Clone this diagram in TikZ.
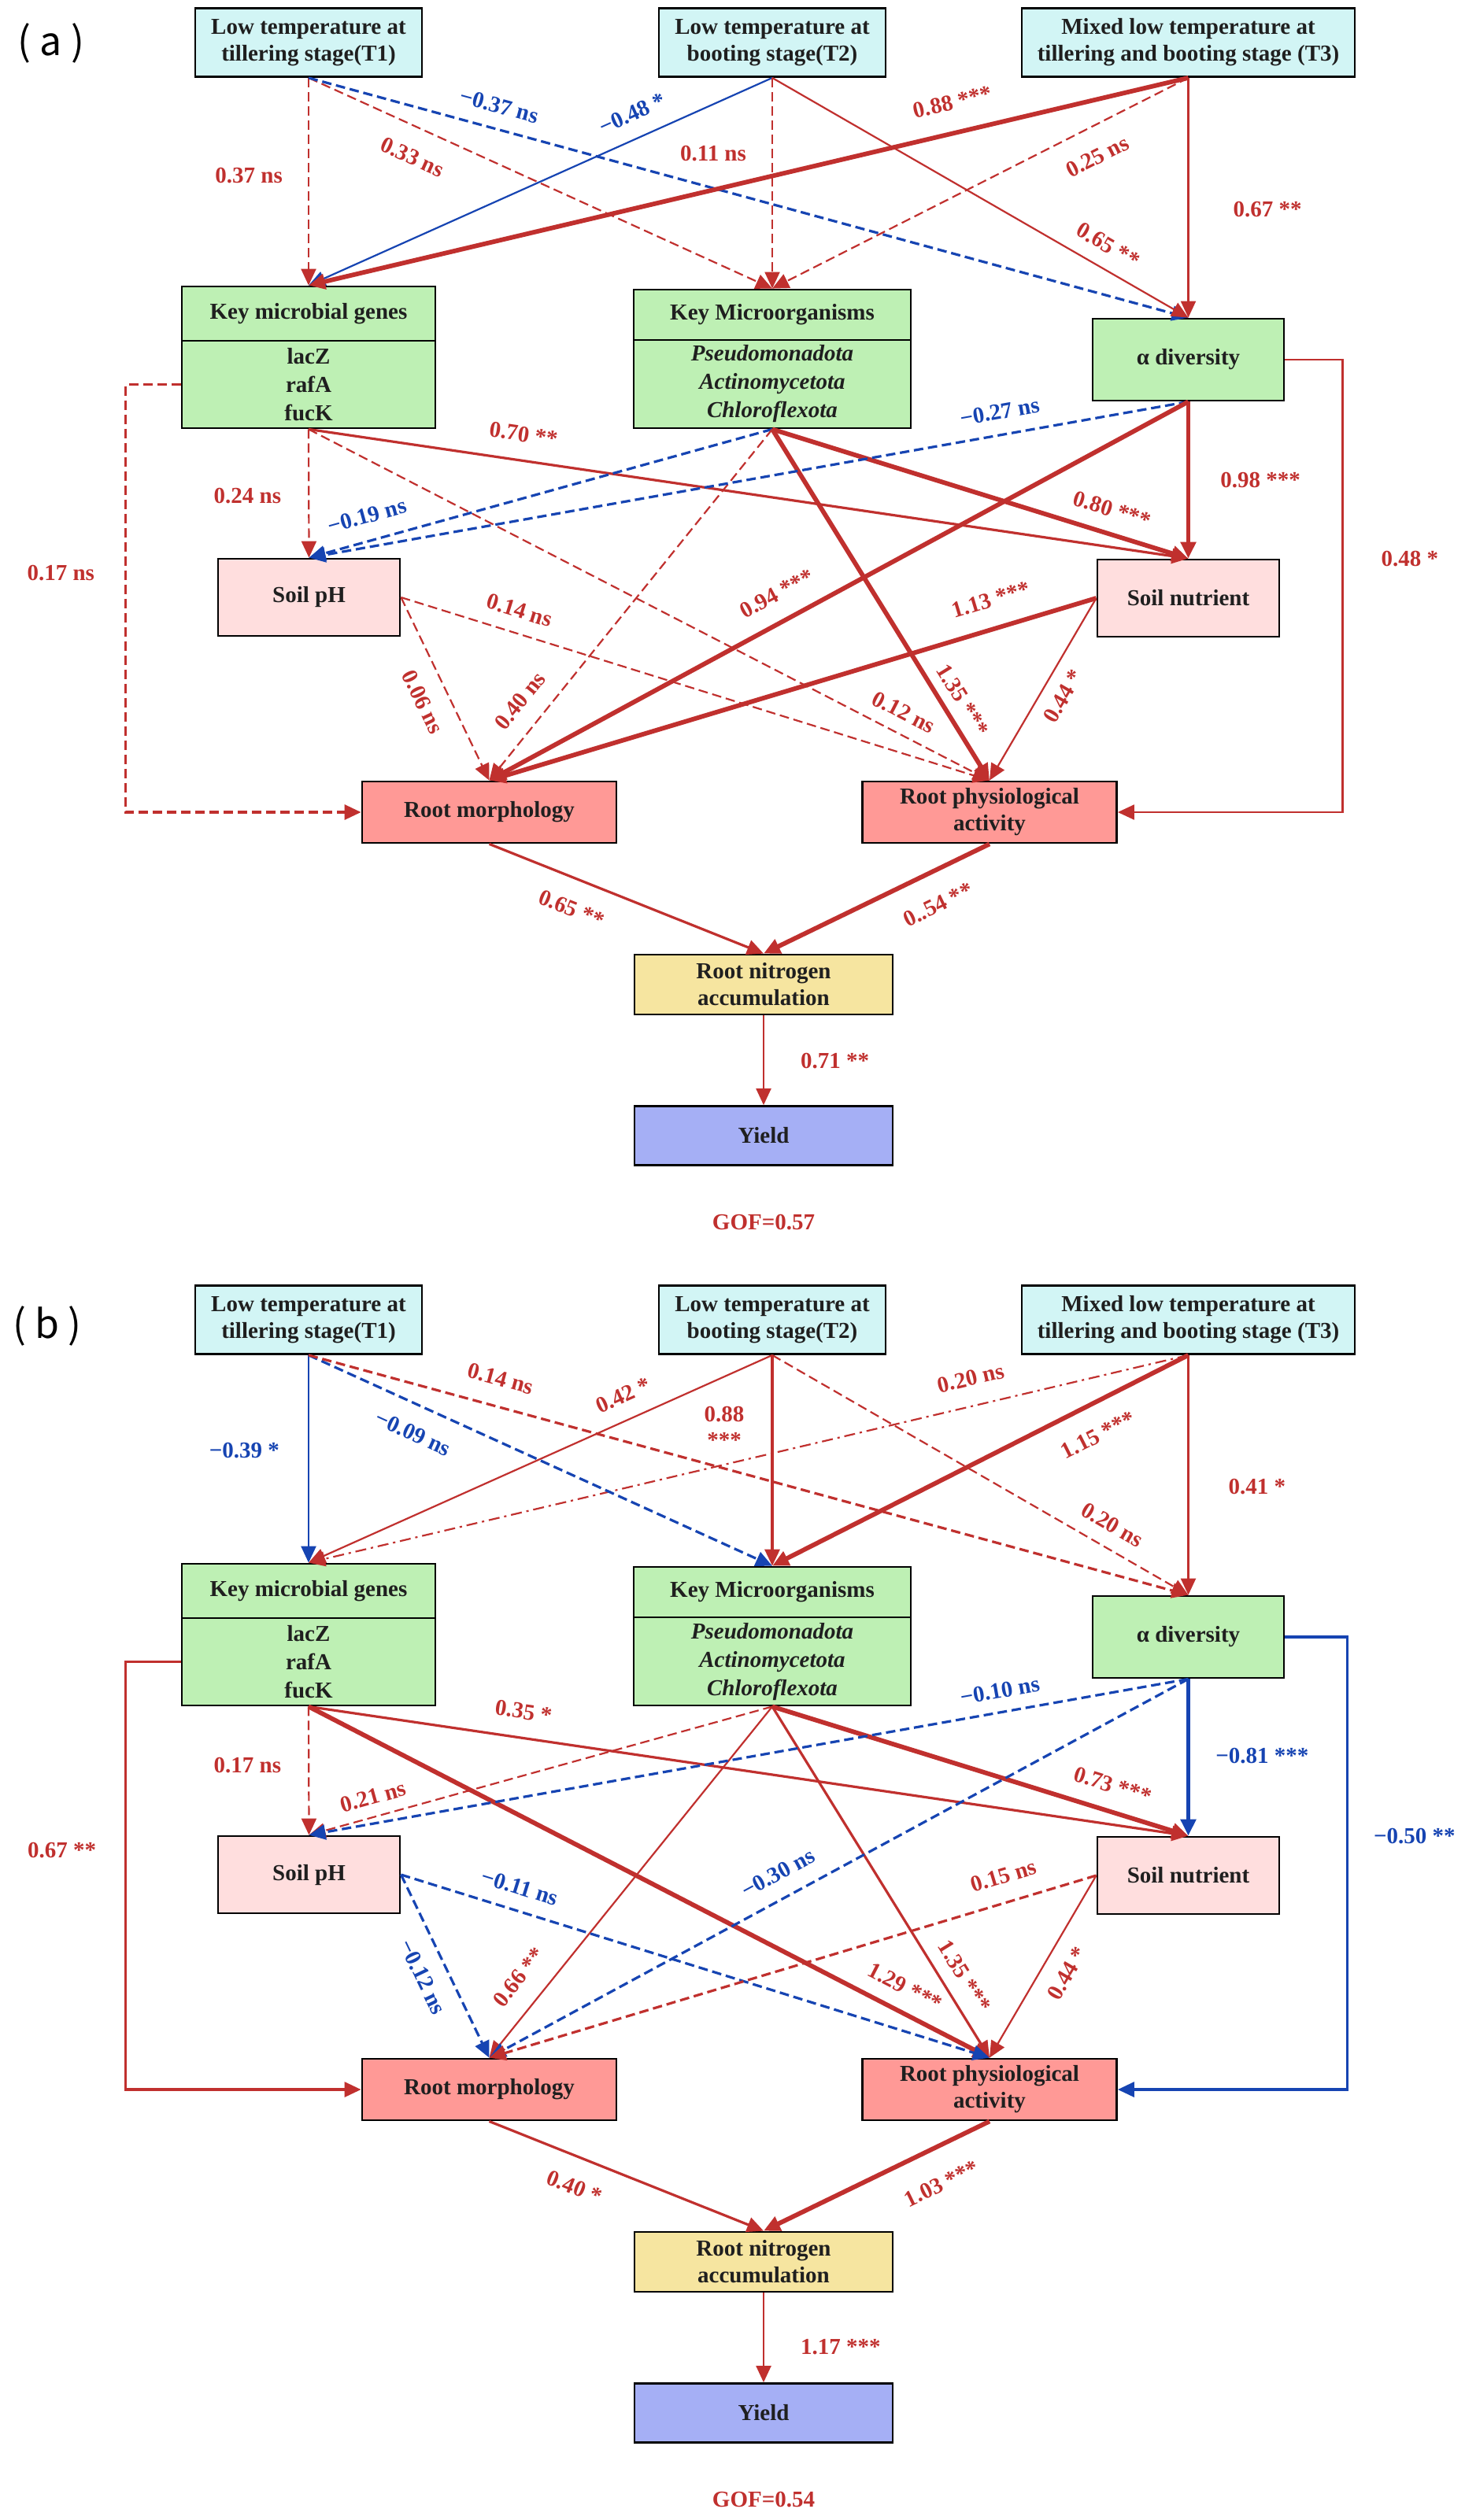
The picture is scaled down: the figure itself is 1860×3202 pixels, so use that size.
\documentclass[tikz,border=0pt]{standalone}
\usepackage{fontspec}
\setmainfont{Liberation Serif}
\newfontfamily\cjk{Noto Sans CJK SC}
\usetikzlibrary{arrows.meta, positioning}

\definecolor{pcol}{RGB}{192,48,46}
\definecolor{ncol}{RGB}{22,68,178}
\definecolor{tcol}{RGB}{210,245,245}
\definecolor{gcol}{RGB}{190,240,180}
\definecolor{scol}{RGB}{255,222,222}
\definecolor{rcol}{RGB}{255,153,150}
\definecolor{ycol}{RGB}{246,229,160}
\definecolor{bcol}{RGB}{165,175,245}

\newcommand\boxfont{\fontsize{14.5pt}{17pt}\selectfont\bfseries}
\newcommand\listfont{\fontsize{14.5pt}{18pt}\selectfont\bfseries}
\newcommand\lblfont{\fontsize{14.5pt}{16.5pt}\selectfont\bfseries}

\tikzset{
    box/.style={draw=black, line width=1.4pt, align=center, font=\boxfont, text=black!88, inner sep=2pt},
    tbox/.style={box, fill=tcol, minimum width=144pt, minimum height=43.5pt},
    gbox/.style={box, fill=gcol},
    sbox/.style={box, fill=scol, minimum width=115.5pt, minimum height=49pt},
    rbox/.style={box, fill=rcol, minimum width=161.5pt, minimum height=39pt},
    tag/.style={font=\cjk\fontsize{25pt}{25pt}\selectfont, inner sep=0pt},
    pline/.style={draw=pcol, -{Triangle[length=10.5pt, width=9.5pt]}},
    nline/.style={draw=ncol, -{Triangle[length=10.5pt, width=9.5pt]}},
    wthin/.style={line width=1.1pt},
    wmid/.style={line width=1.6pt},
    wthick/.style={line width=2.9pt},
    nsd/.style={dash pattern=on 6pt off 3pt},
    dd/.style={dash pattern=on 7pt off 3pt on 1.5pt off 3pt},
    plab/.style={font=\lblfont, text=pcol, inner sep=1pt},
    nlab/.style={font=\lblfont, text=ncol, inner sep=1pt}
}

% boxes shared by both panels (coordinates in pixels, y downwards)
\newcommand\sempanel{%
    \node[tbox] (t1) at (392,54) {Low temperature at\\tillering stage(T1)};
    \node[tbox] (t2) at (981,54) {Low temperature at\\booting stage(T2)};
    \node[tbox, minimum width=211.5pt] (t3) at (1509.5,54) {Mixed low temperature at\\tillering and booting stage (T3)};
    \node[gbox, minimum width=161pt, minimum height=34.5pt] (kmg) at (392,398.5) {Key microbial genes};
    \node[gbox, minimum width=161pt, minimum height=55.5pt, font=\listfont] (kmgl) at (392,488.5) {lacZ\\rafA\\fucK};
    \node[gbox, minimum width=176pt, minimum height=32pt] (kmo) at (981,400) {Key Microorganisms};
    \node[gbox, minimum width=176pt, minimum height=56pt, font=\listfont\itshape] (kmol) at (981,488) {Pseudomonadota\\Actinomycetota\\Chloroflexota};
    \node[gbox, minimum width=121.5pt, minimum height=52pt] (alpha) at (1509.5,457) {α diversity};
    \node[sbox] (ph) at (392.5,759) {Soil pH};
    \node[sbox] (nut) at (1509.5,760) {Soil nutrient};
    \node[rbox] (morph) at (621.5,1032) {Root morphology};
    \node[rbox] (phys) at (1257,1032) {Root physiological\\activity};
    \node[box, fill=ycol, minimum width=164pt, minimum height=38pt] (rna) at (970,1251) {Root nitrogen\\accumulation};
    \node[box, fill=bcol, minimum width=164pt, minimum height=37.5pt] (yield) at (970,1443) {Yield};
}

\begin{document}
\begin{tikzpicture}[x=0.5pt, y=-0.5pt]
    \useasboundingbox (0,0) rectangle (1860,3202);

    % ---------- panel (a) ----------
    \begin{scope}[name prefix=a-]
        \sempanel
        \node[tag] (panel) at (65,55) {( a )};
        \node[plab] (gof) at (970,1553) {GOF=0.57};

        \draw[pline, wthin, nsd] (t1.south) -- node[plab, pos=0.47, left=15pt] {0.37 ns} (kmg.north);
        \draw[pline, wthin, nsd] (t1.south) -- node[plab, pos=0.25, sloped, below=12pt] {0.33 ns} (kmo.north);
        \draw[nline, wmid, nsd] (t1.south) -- node[nlab, pos=0.21, sloped, above=8pt] {−0.37 ns} (alpha.north);
        \draw[nline, wthin] (t2.south) -- node[nlab, pos=0.28, sloped, above=9pt] {−0.48 *} (kmg.north);
        \draw[pline, wthin, nsd] (t2.south) -- node[plab, pos=0.36, left=15pt] {0.11 ns} (kmo.north);
        \draw[pline, wthin] (t2.south) -- node[plab, pos=0.78, sloped, above=8pt] {0.65 **} (alpha.north);
        \draw[pline, wthick] (t3.south) -- node[plab, pos=0.26, sloped, above=12pt] {0.88 ***} (kmg.north);
        \draw[pline, wthin, nsd] (t3.south) -- node[plab, pos=0.25, sloped, below=12pt] {0.25 ns} (kmo.north);
        \draw[pline, wthin] (t3.south) -- node[plab, pos=0.55, right=27pt] {0.67 **} (alpha.north);

        \draw[pline, wthin, nsd] (kmgl.south) -- node[plab, pos=0.52, left=16pt] {0.24 ns} (ph.north);
        \draw[pline, wmid] (kmgl.south) -- node[plab, pos=0.24, sloped, above=10pt] {0.70 **} (nut.north);
        \draw[pline, wthin, nsd] (kmgl.south) -- node[plab, pos=0.86, sloped, above=7pt] {0.12 ns} (phys.north);
        \draw[pline, wmid, nsd] (kmgl.west) -- ++(-70,0) |- node[plab, pos=0.22, left=18pt] {0.17 ns} (morph.west);
        \draw[nline, wmid, nsd] (kmol.south) -- node[nlab, pos=0.86, sloped, above=9pt] {−0.19 ns} (ph.north);
        \draw[pline, wthin, nsd] (kmol.south) -- node[plab, pos=0.82, sloped, above=10pt] {0.40 ns} (morph.north);
        \draw[pline, wthick] (kmol.south) -- node[plab, pos=0.80, sloped, above=8pt] {0.80 ***} (nut.north);
        \draw[pline, wthick] (kmol.south) -- node[plab, pos=0.80, sloped, above=5pt] {1.35 ***} (phys.north);
        \draw[nline, wmid, nsd] (alpha.south) -- node[nlab, pos=0.21, sloped, above=8pt] {−0.27 ns} (ph.north);
        \draw[pline, wthick] (alpha.south) -- node[plab, pos=0.5, right=18pt] {0.98 ***} (nut.north);
        \draw[pline, wthick] (alpha.south) -- node[plab, pos=0.57, sloped, above=10pt] {0.94 ***} (morph.north);
        \draw[pline, wthin] (alpha.east) -- ++(73,0) |- node[plab, pos=0.22, right=23pt] {0.48 *} (phys.east);

        \draw[pline, wthin, nsd] (ph.east) -- node[plab, pos=0.51, sloped, below=10pt] {0.06 ns} (morph.north);
        \draw[pline, wthin, nsd] (ph.east) -- node[plab, pos=0.19, sloped, above=8pt] {0.14 ns} (phys.north);
        \draw[pline, wthick] (nut.west) -- node[plab, pos=0.16, sloped, above=11pt] {1.13 ***} (morph.north);
        \draw[pline, wthin] (nut.west) -- node[plab, pos=0.48, sloped, below=7pt] {0.44 *} (phys.north);
        \draw[pline, wmid] (morph.south) -- node[plab, pos=0.34, sloped, below=12pt] {0.65 **} (rna.north);
        \draw[pline, wthick] (phys.south) -- node[plab, pos=0.29, sloped, below=13pt] {0..54 **} (rna.north);
        \draw[pline, wthin] (rna.south) -- node[plab, pos=0.51, right=22pt] {0.71 **} (yield.north);
    \end{scope}

    % ---------- panel (b) ----------
    \begin{scope}[shift={(0,1623)}, name prefix=b-]
        \sempanel
        \node[tag] (panel) at (60,62) {( b )};
        \node[plab] (gof) at (970,1553) {GOF=0.54};

        \draw[nline, wthin] (t1.south) -- node[nlab, pos=0.46, left=17pt] {−0.39 *} (kmg.north);
        \draw[pline, wthin] (t2.south) -- node[plab, pos=0.30, sloped, above=9pt] {0.42 *} (kmg.north);
        \draw[pline, wthin, dd] (t3.south) -- node[plab, pos=0.24, sloped, above=11pt] {0.20 ns} (kmg.north);
        \draw[nline, wmid, nsd] (t1.south) -- node[nlab, pos=0.25, sloped, below=11pt] {−0.09 ns} (kmo.north);
        \draw[pline, wmid] (t2.south) -- node[plab, pos=0.34, left=16pt, align=center] {0.88\\***} (kmo.north);
        \draw[pline, wthick] (t3.south) -- node[plab, pos=0.25, sloped, below=12pt] {1.15 ***} (kmo.north);
        \draw[pline, wmid, nsd] (t1.south) -- node[plab, pos=0.21, sloped, above=11pt] {0.14 ns} (alpha.north);
        \draw[pline, wthin, nsd] (t2.south) -- node[plab, pos=0.79, sloped, above=8pt] {0.20 ns} (alpha.north);
        \draw[pline, wthin] (t3.south) -- node[plab, pos=0.55, right=24pt] {0.41 *} (alpha.north);

        \draw[pline, wthin, nsd] (kmgl.south) -- node[plab, pos=0.46, left=16pt] {0.17 ns} (ph.north);
        \draw[pline, wmid] (kmgl.south) -- node[plab, pos=0.24, sloped, above=10pt] {0.35 *} (nut.north);
        \draw[pline, wthick] (kmgl.south) -- node[plab, pos=0.86, sloped, above=8pt] {1.29 ***} (phys.north);
        \draw[pline, wmid] (kmgl.west) -- ++(-70,0) |- node[plab, pos=0.22, left=17pt] {0.67 **} (morph.west);
        \draw[pline, wthin, nsd] (kmol.south) -- node[plab, pos=0.85, sloped, above=6pt] {0.21 ns} (ph.north);
        \draw[pline, wthin] (kmol.south) -- node[plab, pos=0.82, sloped, above=11pt] {0.66 **} (morph.north);
        \draw[pline, wthick] (kmol.south) -- node[plab, pos=0.80, sloped, above=9pt] {0.73 ***} (nut.north);
        \draw[pline, wmid] (kmol.south) -- node[plab, pos=0.80, sloped, above=7pt] {1.35 ***} (phys.north);
        \draw[nline, wmid, nsd] (alpha.south) -- node[nlab, pos=0.21, sloped, above=7pt] {−0.10 ns} (ph.north);
        \draw[nline, wmid, nsd] (alpha.south) -- node[nlab, pos=0.57, sloped, above=9pt] {−0.30 ns} (morph.north);
        \draw[nline, wthick] (alpha.south) -- node[nlab, pos=0.49, right=15pt] {−0.81 ***} (nut.north);
        \draw[nline, wmid] (alpha.east) -- ++(79,0) |- node[nlab, pos=0.22, right=15pt] {−0.50 **} (phys.east);

        \draw[nline, wmid, nsd] (ph.east) -- node[nlab, pos=0.50, sloped, below=9pt] {−0.12 ns} (morph.north);
        \draw[nline, wmid, nsd] (ph.east) -- node[nlab, pos=0.19, sloped, above=8pt] {−0.11 ns} (phys.north);
        \draw[pline, wmid, nsd] (nut.west) -- node[plab, pos=0.14, sloped, above=10pt] {0.15 ns} (morph.north);
        \draw[pline, wthin] (nut.west) -- node[plab, pos=0.47, sloped, below=9pt] {0.44 *} (phys.north);
        \draw[pline, wmid] (morph.south) -- node[plab, pos=0.35, sloped, below=12pt] {0.40 *} (rna.north);
        \draw[pline, wthick] (phys.south) -- node[plab, pos=0.28, sloped, below=15pt] {1.03 ***} (rna.north);
        \draw[pline, wthin] (rna.south) -- node[plab, pos=0.6, right=22pt] {1.17 ***} (yield.north);
    \end{scope}
\end{tikzpicture}
\end{document}
